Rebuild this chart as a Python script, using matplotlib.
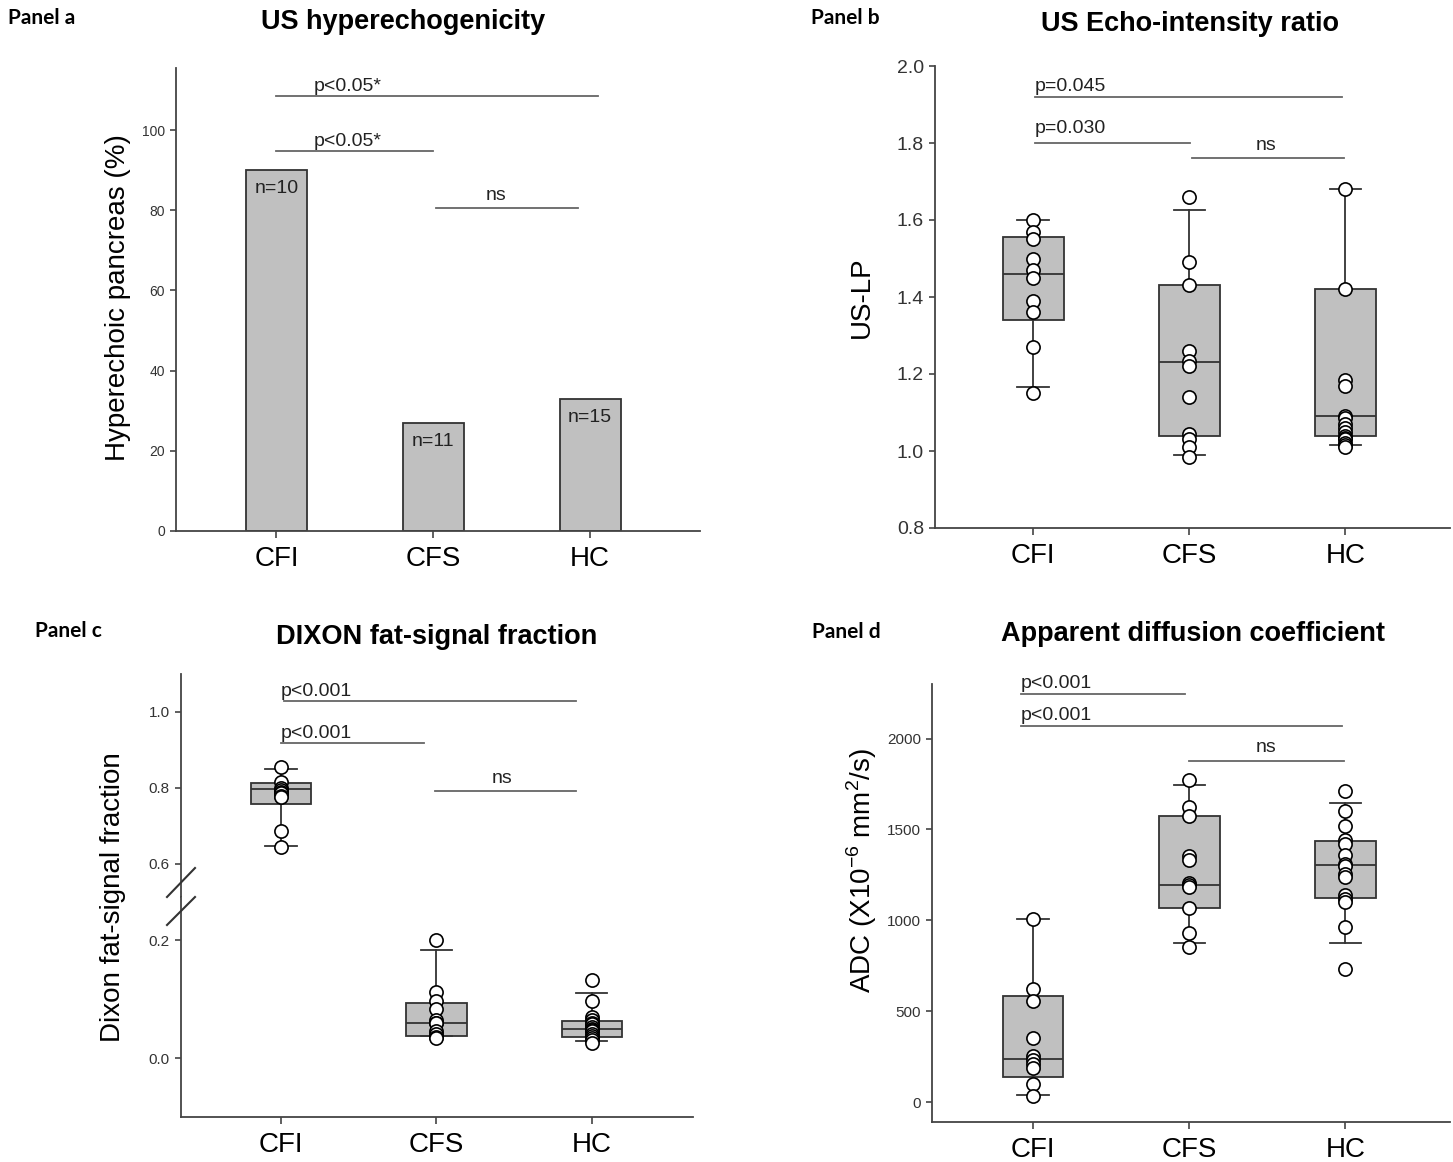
import numpy as np
import matplotlib
matplotlib.use('Agg')
import matplotlib.pyplot as plt
from matplotlib.lines import Line2D

W, H = 1453, 1162
plt.rcParams['font.family'] = ['Liberation Sans', 'DejaVu Sans']
plt.rcParams['mathtext.fontset'] = 'custom'
plt.rcParams['mathtext.rm'] = 'Liberation Sans'

groups = ['CFI', 'CFS', 'HC']

# panel a: % hyperechoic pancreas
hyper_pct = [90, 27, 33]
n_labels = ['n=10', 'n=11', 'n=15']

# panel b: US-LP  (q1, median, q3, whisker low, whisker high)
b_stats = [(1.34, 1.46, 1.555, 1.165, 1.60),
           (1.04, 1.23, 1.43, 0.99, 1.625),
           (1.04, 1.09, 1.42, 1.015, 1.68)]
b_cfi = [1.60, 1.57, 1.55, 1.50, 1.47, 1.45, 1.39, 1.36, 1.27, 1.15]
b_cfs = [1.66, 1.49, 1.43, 1.26, 1.235, 1.22, 1.14, 1.045, 1.03, 1.01, 0.985]
b_hc = [1.68, 1.42, 1.185, 1.17, 1.09, 1.085, 1.07, 1.06, 1.05, 1.04, 1.035,
        1.03, 1.02, 1.015, 1.01]

# panel c: Dixon fat-signal fraction
c_stats = [(0.758, 0.797, 0.813, 0.647, 0.850),
           (0.037, 0.059, 0.094, 0.037, 0.183),
           (0.036, 0.049, 0.062, 0.029, 0.111)]
c_cfi = [0.855, 0.816, 0.80, 0.795, 0.79, 0.787, 0.78, 0.776, 0.687, 0.645]
c_cfs = [0.200, 0.112, 0.097, 0.083, 0.065, 0.06, 0.059, 0.045, 0.04, 0.036, 0.034]
c_hc = [0.132, 0.097, 0.07, 0.065, 0.06, 0.057, 0.053, 0.05, 0.047, 0.045,
        0.04, 0.037, 0.034, 0.03, 0.025]

# panel d: ADC
d_stats = [(140, 239, 585, 38, 1005),
           (1070, 1193, 1575, 873, 1742),
           (1121, 1302, 1437, 873, 1643)]
d_cfi = [1005, 620, 555, 350, 255, 230, 210, 187, 100, 35]
d_cfs = [1772, 1622, 1571, 1352, 1330, 1203, 1195, 1185, 1069, 931, 851]
d_hc = [1714, 1599, 1516, 1440, 1420, 1357, 1310, 1300, 1253, 1240, 1140,
        1115, 1100, 962, 733]

# significance bars: (x start, x end, y, label)
a_sig = [(0, 2.05, 108.5, 'p<0.05*'), (0, 1.0, 94.75, 'p<0.05*'), (1.02, 1.92, 80.5, 'ns')]
b_sig = [(0.013, 1.98, 1.92, 'p=0.045'), (0.013, 1.006, 1.80, 'p=0.030'), (1.02, 1.99, 1.76, 'ns')]
c_sig = [(0.02, 1.9, 1.029, 'p<0.001'), (0.0, 0.92, 0.918, 'p<0.001'), (0.99, 1.9, 0.792, 'ns')]
d_sig = [(-0.076, 0.97, 2247, 'p<0.001'), (-0.076, 1.98, 2071, 'p<0.001'), (1.0, 1.99, 1879, 'ns')]

GREY = '#c0c0c0'
EDGE = '#333333'
SPINE = '#444444'


def px_axes(fig, left, top, right, bottom):
    return fig.add_axes([left / W, 1 - bottom / H, (right - left) / W, (bottom - top) / H])


def style_axes(ax, tick_size, show_x=True):
    ax.spines['top'].set_visible(False)
    ax.spines['right'].set_visible(False)
    for s in ['left', 'bottom']:
        ax.spines[s].set_color(SPINE)
        ax.spines[s].set_linewidth(1.3)
    ax.tick_params(axis='y', direction='out', length=4, width=1.2, color=SPINE,
                   labelsize=tick_size, labelcolor='#333333', pad=4)
    if show_x:
        ax.set_xticks(range(3))
        ax.set_xticklabels(groups, fontsize=20)
        ax.tick_params(axis='x', direction='out', length=5, width=1.2, color=SPINE, pad=6)
    else:
        ax.spines['bottom'].set_visible(False)
        ax.set_xticks([])


def draw_boxes(ax, stats, points, idx=(0, 1, 2)):
    bstats = []
    for i in idx:
        q1, med, q3, lo, hi = stats[i]
        bstats.append({'q1': q1, 'med': med, 'q3': q3, 'whislo': lo, 'whishi': hi, 'fliers': []})
    ax.bxp(bstats, positions=list(idx), widths=0.39, capwidths=0.2, patch_artist=True,
           showfliers=False, manage_ticks=False,
           boxprops=dict(facecolor=GREY, edgecolor=EDGE, linewidth=1.3),
           medianprops=dict(color=EDGE, linewidth=1.3),
           whiskerprops=dict(color=EDGE, linewidth=1.3),
           capprops=dict(color=EDGE, linewidth=1.3))
    for i in idx:
        vals = points[i]
        ax.plot(np.full(len(vals), i), vals, 'o', ms=9.5, mfc='white', mec='black',
                mew=1.2, zorder=4, clip_on=False)


def draw_sig(ax, sig, text_x, ns_x, offs=(1, 1)):
    for k, (x0, x1, y, lab) in enumerate(sig):
        ax.plot([x0, x1], [y, y], color='#666666', lw=1.3, clip_on=False)
        if lab == 'ns':
            ax.annotate(lab, xy=(ns_x, y), xytext=(0, 3), textcoords='offset points',
                        ha='center', va='bottom', fontsize=14, color='#222222')
        else:
            ax.annotate(lab, xy=(text_x[k], y), xytext=(0, offs[k]), textcoords='offset points',
                        ha='left', va='bottom', fontsize=14, color='#222222')


fig = plt.figure(figsize=(W / 100, H / 100), dpi=100)

# ---- panel a
ax = px_axes(fig, 176, 68, 700, 531)
ax.bar(range(3), hyper_pct, width=0.39, color=GREY, edgecolor=EDGE, linewidth=1.3)
for i, (v, lab) in enumerate(zip(hyper_pct, n_labels)):
    ax.text(i, v - 2.5, lab, ha='center', va='top', fontsize=14, color='#222222')
ax.set_xlim(-0.64, 2.70)
ax.set_ylim(0, 115.5)
ax.set_yticks([0, 20, 40, 60, 80, 100])
style_axes(ax, 10)
draw_sig(ax, a_sig, [0.236, 0.24], 1.40)

# ---- panel b
ax = px_axes(fig, 935, 66, 1450, 528)
draw_boxes(ax, b_stats, [b_cfi, b_cfs, b_hc])
ax.set_xlim(-0.628, 2.67)
ax.set_ylim(0.8, 2.0)
ax.set_yticks(np.arange(0.8, 2.01, 0.2))
ax.set_yticklabels([f'{v:.1f}' for v in np.arange(0.8, 2.01, 0.2)])
style_axes(ax, 14)
draw_sig(ax, b_sig, [0.013, 0.013], 1.49, offs=(1, 4))

# ---- panel c (broken axis)
ax_up = px_axes(fig, 181, 674, 693, 897)
ax_lo = px_axes(fig, 181, 897, 693, 1117)
for a in (ax_up, ax_lo):
    a.set_xlim(-0.643, 2.65)
draw_boxes(ax_up, c_stats, [c_cfi, c_cfs, c_hc], idx=(0,))
draw_boxes(ax_lo, c_stats, [c_cfi, c_cfs, c_hc], idx=(1, 2))
ax_up.set_ylim(0.513, 1.10)
ax_up.set_yticks([0.6, 0.8, 1.0])
ax_lo.set_ylim(-0.10, 0.273)
ax_lo.set_yticks([0.0, 0.2])
style_axes(ax_up, 11, show_x=False)
style_axes(ax_lo, 11)
draw_sig(ax_up, c_sig, [0.0, 0.0], 1.42)
for y0, y1 in [(897, 868), (925, 897)]:
    fig.add_artist(Line2D([167 / W, 195 / W], [1 - y0 / H, 1 - y1 / H],
                          color='#333333', lw=1.5))

# ---- panel d
ax = px_axes(fig, 932, 684, 1450, 1122)
draw_boxes(ax, d_stats, [d_cfi, d_cfs, d_hc])
ax.set_xlim(-0.647, 2.67)
ax.set_ylim(-110, 2300)
ax.set_yticks([0, 500, 1000, 1500, 2000])
style_axes(ax, 11)
draw_sig(ax, d_sig, [-0.076, -0.076], 1.49)

# titles, panel labels, y labels
titles = [('US hyperechogenicity', 403, 22), ('US Echo-intensity ratio', 1190, 24),
          ('DIXON fat-signal fraction', 437, 637), ('Apparent diffusion coefficient', 1193, 634)]
for t, x, y in titles:
    fig.text(x / W, 1 - y / H, t, ha='center', va='center', fontsize=19.5, fontweight='bold')

panels = [('Panel a', 8, 18), ('Panel b', 811, 18), ('Panel c', 35, 631), ('Panel d', 812, 632)]
for t, x, y in panels:
    fig.text(x / W, 1 - y / H, t, ha='left', va='center', fontsize=15, fontweight='bold',
             family=['Lato', 'DejaVu Sans'])

ylabels = [('Hyperechoic pancreas (%)', 118, 298), ('US-LP', 862, 297),
           ('Dixon fat-signal fraction', 113, 897),
           (r'ADC (X10$^{\mathregular{-6}}$ mm$^{\mathregular{2}}$/s)', 862, 870)]
for t, x, y in ylabels:
    fig.text(x / W, 1 - y / H, t, ha='center', va='center', rotation=90, fontsize=20)

fig.savefig('out.png', dpi=100)
